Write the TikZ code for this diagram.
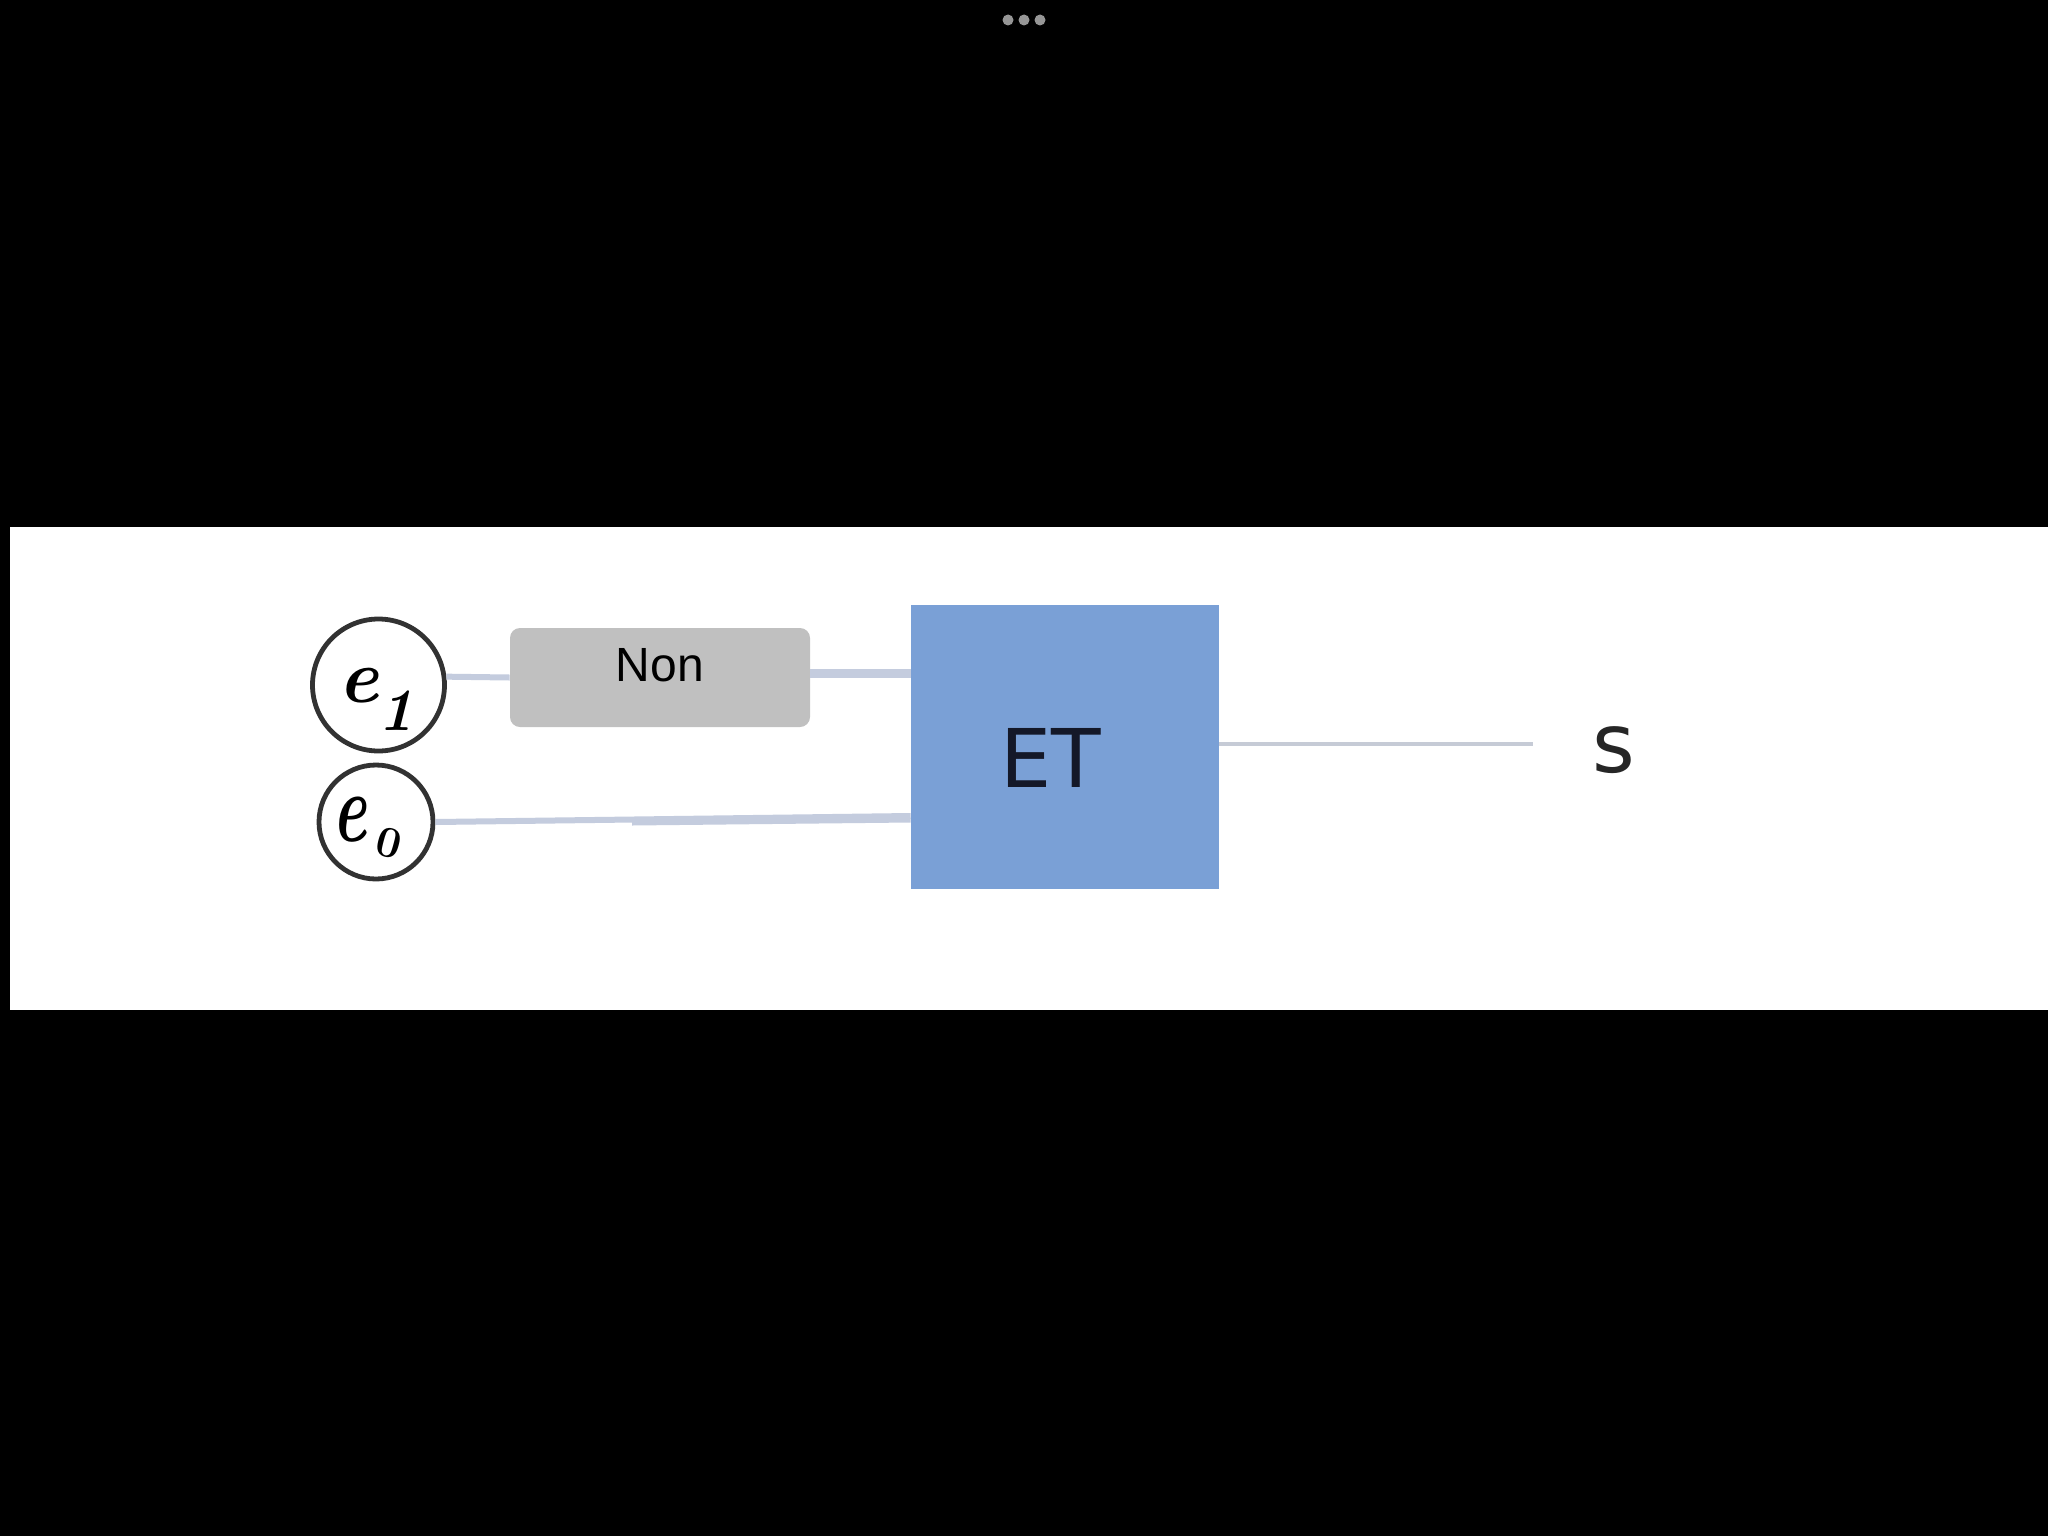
\documentclass[tikz,border=0pt]{standalone}
\usepackage{fontspec}
\usepackage{graphicx}
\newfontfamily\arialfont{Liberation Sans}
\newfontfamily\dejafont{DejaVu Sans}
\definecolor{wirecol}{RGB}{196,204,222}
\definecolor{outcol}{RGB}{198,203,214}
\definecolor{etblue}{RGB}{122,160,214}
\definecolor{nongray}{RGB}{192,192,192}
\definecolor{ringcol}{RGB}{50,50,50}
\definecolor{dotcol}{RGB}{150,150,150}
\definecolor{inkcol}{RGB}{20,24,40}
\tikzset{
  ring/.style={circle,draw=ringcol,line width=2.4pt,fill=white,inner sep=0pt},
  wire/.style={draw=wirecol,line width=3pt},
  dotnode/.style={circle,fill=dotcol,inner sep=0pt,minimum size=5.5pt},
  hand/.style={inner sep=0pt,text=black}
}
\begin{document}
\begin{tikzpicture}[x=0.5pt,y=-0.5pt]
\fill[black] (0,0) rectangle (2048,1536);
\useasboundingbox (0,0) rectangle (2048,1536);
\fill[white] (10,527) rectangle (2048,1010);
\node[dotnode] (d1) at (1008,20) {};
\node[dotnode] (d2) at (1024,20) {};
\node[dotnode] (d3) at (1040,20) {};
\node[ring,minimum size=66pt] (e1) at (378.5,685) {};
\node[ring,minimum size=57pt] (e0) at (376,822) {};
\node[fill=nongray,rounded corners=5pt,minimum width=150pt,minimum height=49.5pt,inner sep=0pt] (non) at (660,677.5) {};
\node[fill=etblue,minimum width=154pt,minimum height=142pt,inner sep=0pt] (et) at (1065,747) {};
\node[inner sep=0pt,font=\arialfont\fontsize{24}{24}\selectfont] (nonlabel) at (660,665) {Non};
\node[inner sep=0pt,text=inkcol,font=\dejafont\fontsize{40.5}{40.5}\selectfont] (etlabel) at (1051,758) {ET};
\node[inner sep=0pt,text=black!85,font=\dejafont\fontsize{41}{41}\selectfont] (slabel) at (1614,750) {s};
\node[hand,font=\bfseries\fontsize{38}{38}\selectfont] (e1a) at (359,686) {\textit{e}};
\node[hand,font=\bfseries\fontsize{30}{30}\selectfont] (e1b) at (396,711) {\textit{1}};
\node[hand,font=\bfseries\fontsize{34}{34}\selectfont] (e0a) at (350,820) {\scalebox{0.95}[1.45]{\textit{e}}};
\node[hand,rotate=-15,font=\bfseries\fontsize{22}{22}\selectfont] (e0b) at (389,843) {0};
\coordinate (etin1) at (et.west |- 0,673);
\coordinate (etin0) at (et.west |- 0,816);
\coordinate (nonout) at (non.east |- 0,673);
\coordinate (etout) at (et.east |- 0,744);
\coordinate (send) at (1533,744);
\coordinate (branch) at (632,823);
\draw[wire] (e1.7) -- (non.west);
\draw[wire,line width=4.5pt] (nonout) -- (etin1);
\draw[wire] (e0.east) -- (etin0);
\draw[wire,line width=2.5pt] (branch) -- (et.west |- 0,820);
\draw[draw=outcol,line width=2pt] (etout) -- (send);
\end{tikzpicture}
\end{document}
